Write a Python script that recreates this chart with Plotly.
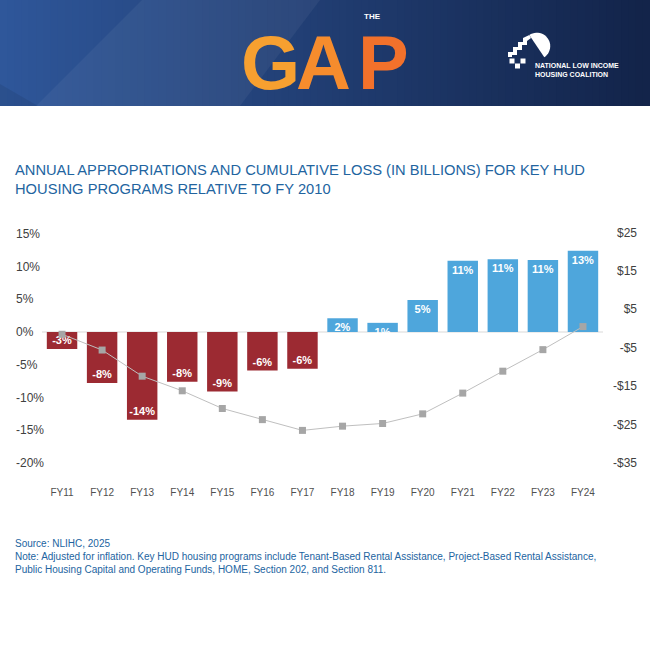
import numpy as np
import plotly.graph_objects as go

# ---------------- data ----------------
years = ["FY11", "FY12", "FY13", "FY14", "FY15", "FY16", "FY17",
         "FY18", "FY19", "FY20", "FY21", "FY22", "FY23", "FY24"]
approp_pct = [-2.6, -7.8, -13.4, -7.6, -9.1, -5.9, -5.6,
              2.1, 1.4, 4.9, 10.9, 11.1, 11.0, 12.4]
approp_labels = ["-3%", "-8%", "-14%", "-8%", "-9%", "-6%", "-6%",
                 "2%", "1%", "5%", "11%", "11%", "11%", "13%"]
cum_loss = [-1.5, -5.6, -12.4, -16.2, -20.8, -23.7, -26.5,
            -25.4, -24.7, -22.2, -16.8, -11.1, -5.5, 0.5]
left_ticks = [15, 10, 5, 0, -5, -10, -15, -20]
left_ticktext = ["15%", "10%", "5%", "0%", "-5%", "-10%", "-15%", "-20%"]
right_ticks = [25, 15, 5, -5, -15, -25, -35]
right_ticktext = ["$25", "$15", "$5", "-$5", "-$15", "-$25", "-$35"]

title_text = ("ANNUAL APPROPRIATIONS AND CUMULATIVE LOSS (IN BILLIONS) FOR KEY HUD"
              "<br>HOUSING PROGRAMS RELATIVE TO FY 2010")
source_text = ("Source: NLIHC, 2025<br>"
               "Note: Adjusted for inflation. Key HUD housing programs include Tenant-Based Rental Assistance, Project-Based Rental Assistance,<br>"
               "Public Housing Capital and Operating Funds, HOME, Section 202, and Section 811.")

# ---------------- style ----------------
W = H = 650
RED = "#9C2A32"
BLUE = "#4EA6DC"
TITLE_BLUE = "#22649F"
SANS = "Liberation Sans, Arial, sans-serif"


def fx(px):
    return px / W


def fy(py):
    return 1 - py / H


bar_colors = [RED if v < 0 else BLUE for v in approp_pct]

fig = go.Figure()
fig.add_trace(go.Bar(
    x=years, y=approp_pct, marker=dict(color=bar_colors, line=dict(width=0)),
    width=0.76, text=approp_labels, textposition="inside", insidetextanchor="end",
    textangle=0, constraintext="none",
    textfont=dict(family=SANS, size=11, color="white", weight="bold"),
    cliponaxis=False, hoverinfo="skip", showlegend=False, yaxis="y",
))
fig.add_trace(go.Scatter(
    x=years, y=cum_loss, mode="lines+markers", yaxis="y2",
    line=dict(color="#BFBFBF", width=1),
    marker=dict(symbol="square", size=7, color="#A6A6A6"),
    showlegend=False, hoverinfo="skip", cliponaxis=False,
))

shapes = []
# header gradient banner
n = 90
c0 = np.array([0x2F, 0x57, 0x9A])
c1 = np.array([0x13, 0x24, 0x4A])
for i in range(n):
    t = i / (n - 1)
    c = (c0 * (1 - t) + c1 * t).astype(int)
    shapes.append(dict(type="rect", xref="paper", yref="paper",
                       x0=fx(i * W / n), x1=fx(min((i + 1) * W / n + 1, W)),
                       y0=fy(106), y1=fy(0), line=dict(width=0),
                       fillcolor="rgb(%d,%d,%d)" % tuple(c), layer="below"))


def path_from(pts):
    s = "M " + " L ".join("%.5f,%.5f" % (fx(a), fy(b)) for a, b in pts) + " Z"
    return s


# lighter diagonal band
shapes.append(dict(type="path", xref="paper", yref="paper",
                   path=path_from([(36, 106), (142, 0), (320, 0), (240, 106)]),
                   fillcolor="rgba(255,255,255,0.05)", line=dict(width=0), layer="below"))
shapes.append(dict(type="path", xref="paper", yref="paper",
                   path=path_from([(0, 84), (0, 106), (38, 106)]),
                   fillcolor="rgba(0,0,0,0.08)", line=dict(width=0), layer="below"))

# NLIHC house icon
stairs = [(508, 57), (508, 52), (513, 52), (513, 47), (518, 47), (518, 42),
          (523, 42), (523, 38), (529.3, 35), (531, 38), (527, 41), (527, 45),
          (522, 45), (522, 50), (517, 50), (517, 55), (512, 55), (512, 57)]
shapes.append(dict(type="path", xref="paper", yref="paper", path=path_from(stairs),
                   fillcolor="white", line=dict(width=0), layer="below"))
for (a, b) in [(509.5, 58.5), (515, 63.5), (520.5, 58.5)]:
    shapes.append(dict(type="rect", xref="paper", yref="paper",
                       x0=fx(a), x1=fx(a + 5), y0=fy(b + 5), y1=fy(b),
                       fillcolor="white", line=dict(width=0), layer="below"))
p0 = np.array([529.3, 35.0])
p1 = np.array([544.3, 57.3])
cen = (p0 + p1) / 2
rad = np.linalg.norm(p1 - p0) / 2
ang0 = np.arctan2(p0[1] - cen[1], p0[0] - cen[0])
arc = [(cen[0] + rad * np.cos(a), cen[1] + rad * np.sin(a))
       for a in np.linspace(ang0, ang0 + np.pi, 24)]
shapes.append(dict(type="path", xref="paper", yref="paper", path=path_from(arc),
                   fillcolor="white", line=dict(width=0), layer="below"))

# zero line
shapes.append(dict(type="line", xref="x domain", yref="y", x0=0, x1=1, y0=0, y1=0,
                   line=dict(color="#D9D9D9", width=1), layer="below"))

annotations = [
    dict(text="G", x=fx(270), y=fy(62), xref="paper", yref="paper", showarrow=False,
         font=dict(family=SANS, size=76, color="#F7A030", weight="bold"),
         xanchor="center", yanchor="middle"),
    dict(text="A", x=fx(323), y=fy(62), xref="paper", yref="paper", showarrow=False,
         font=dict(family=SANS, size=76, color="#F68C2D", weight="bold"),
         xanchor="center", yanchor="middle"),
    dict(text="P", x=fx(383), y=fy(62), xref="paper", yref="paper", showarrow=False,
         font=dict(family=SANS, size=76, color="#F2712B", weight="bold"),
         xanchor="center", yanchor="middle"),
    dict(text="THE", x=fx(372), y=fy(16.5), xref="paper", yref="paper", showarrow=False,
         font=dict(family=SANS, size=8, color="white", weight="bold"),
         xanchor="center", yanchor="middle"),
    dict(text="NATIONAL LOW INCOME<br>HOUSING COALITION", x=fx(533), y=fy(70),
         xref="paper", yref="paper", showarrow=False, align="left",
         font=dict(family=SANS, size=7, color="white", weight="bold"),
         xanchor="left", yanchor="middle"),
    dict(text=title_text, x=fx(13), y=fy(179.5), xref="paper", yref="paper",
         showarrow=False, align="left",
         font=dict(family=SANS, size=14.7, color=TITLE_BLUE),
         xanchor="left", yanchor="middle"),
    dict(text=source_text, x=fx(13), y=fy(556.3), xref="paper", yref="paper",
         showarrow=False, align="left",
         font=dict(family=SANS, size=10, color=TITLE_BLUE),
         xanchor="left", yanchor="middle"),
]

fig.update_layout(
    width=W, height=H, margin=dict(l=0, r=0, t=0, b=0),
    paper_bgcolor="white", plot_bgcolor="white",
    bargap=0.24, showlegend=False,
    font=dict(family=SANS, color="#404040"),
    xaxis=dict(domain=[fx(42), fx(603)], type="category", range=[-0.5, 13.5],
               showgrid=False, zeroline=False, showline=False, ticks="",
               tickfont=dict(family=SANS, size=10, color="#505050"),
               ticklabelstandoff=7, anchor="y"),
    yaxis=dict(domain=[fy(478), fy(215)], range=[-22.31, 17.88],
               tickvals=left_ticks, ticktext=left_ticktext,
               showgrid=False, zeroline=False, showline=False, ticks="",
               anchor="free", position=fx(12), ticklabelposition="inside",
               tickfont=dict(family=SANS, size=12, color="#404040")),
    yaxis2=dict(overlaying="y", side="right", range=[-38.88, 29.52],
                tickvals=right_ticks, ticktext=right_ticktext,
                showgrid=False, zeroline=False, showline=False, ticks="",
                anchor="free", position=fx(640), ticklabelposition="inside",
                tickfont=dict(family=SANS, size=12, color="#404040")),
    shapes=shapes, annotations=annotations,
)

fig.write_html("out.html",
               config={"displayModeBar": False},
               post_script="document.body.style.margin='0px';"
                           "document.body.style.overflow='hidden';")
